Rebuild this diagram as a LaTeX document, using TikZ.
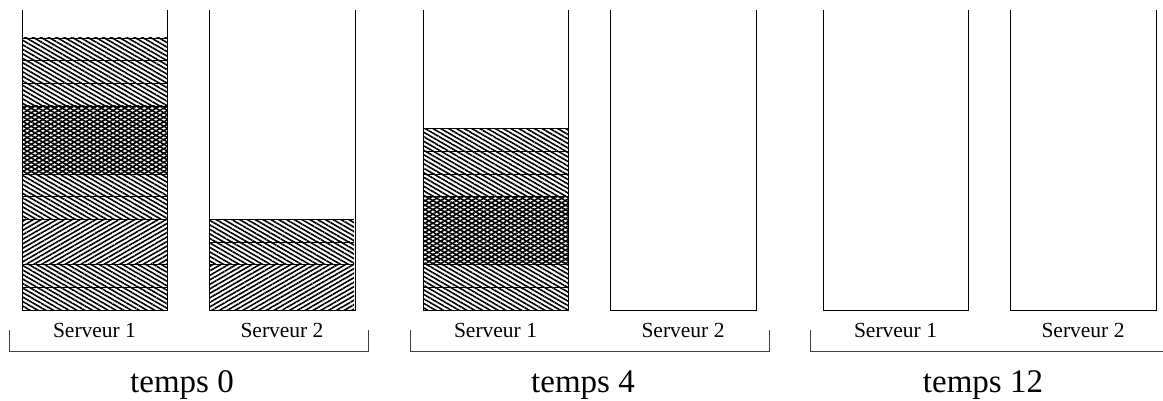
\documentclass[tikz,border=0pt]{standalone}
\usepackage{fontspec}
\newfontfamily\labelfont{Liberation Serif}
\usetikzlibrary{patterns.meta}

\tikzset{
  hatchdown/.style={pattern={Lines[angle=-30,distance=3.9pt,line width=1.6pt]}},
  hatchup/.style={pattern={Lines[angle=30,distance=3.9pt,line width=1.6pt]}},
  hatchcross/.style={hatchdown, postaction={hatchup}},
  sepline/.style={line width=0.8pt},
  binline/.style={line width=0.9pt},
  braceline/.style={line width=0.9pt, black!75},
  serverlabel/.style={anchor=base, inner sep=0pt, font=\labelfont\fontsize{21.5}{22}\selectfont},
  timelabel/.style={anchor=base, inner sep=0pt, font=\labelfont\fontsize{33}{34}\selectfont},
}

% one task: left edge, first unit slot, number of slots, fill style
\pgfmathsetmacro\slotht{22.67}
\newcommand\taskblock[4]{%
  \path[#4] (#1,{310-#2*\slotht}) rectangle ({#1+145},{310-(#2+#3)*\slotht});
  \draw[sepline] (#1,{310-(#2+#3)*\slotht}) -- ++(145,0);
}

\begin{document}
\begin{tikzpicture}[x=1pt,y=-1pt]
  \useasboundingbox (0,0) rectangle (1163,401);
  \clip (0,0) rectangle (1163,401);

  % temps 0, serveur 1
  \taskblock{22}{0}{1}{hatchdown}
  \taskblock{22}{1}{1}{hatchdown}
  \taskblock{22}{2}{2}{hatchup}
  \taskblock{22}{4}{1}{hatchdown}
  \taskblock{22}{5}{1}{hatchdown}
  \taskblock{22}{6}{3}{hatchcross}
  \taskblock{22}{9}{1}{hatchdown}
  \taskblock{22}{10}{1}{hatchdown}
  \taskblock{22}{11}{1}{hatchdown}
  % temps 0, serveur 2
  \taskblock{209}{0}{2}{hatchup}
  \taskblock{209}{2}{1}{hatchdown}
  \taskblock{209}{3}{1}{hatchdown}
  % temps 4, serveur 1
  \taskblock{423}{0}{1}{hatchdown}
  \taskblock{423}{1}{1}{hatchdown}
  \taskblock{423}{2}{3}{hatchcross}
  \taskblock{423}{5}{1}{hatchdown}
  \taskblock{423}{6}{1}{hatchdown}
  \taskblock{423}{7}{1}{hatchdown}

  % servers, their names, the bracket and the time
  \foreach \p/\t/\nm in {0/0/a, 401/4/b, 801/12/c} {
    \draw[binline] (\p+22,10) -- (\p+22,310) -- (\p+167,310) -- (\p+167,10);
    \draw[binline] (\p+209,10) -- (\p+209,310) -- (\p+355,310) -- (\p+355,10);
    \node[serverlabel] (srvone\nm) at (\p+94.5,337) {Serveur 1};
    \node[serverlabel] (srvtwo\nm) at (\p+282,337) {Serveur 2};
    \draw[braceline] (\p+9,330) -- (\p+9,351.5) -- (\p+368,351.5) -- (\p+368,330);
    \node[timelabel] (time\nm) at (\p+182,392) {temps \t};
  }
\end{tikzpicture}
\end{document}
